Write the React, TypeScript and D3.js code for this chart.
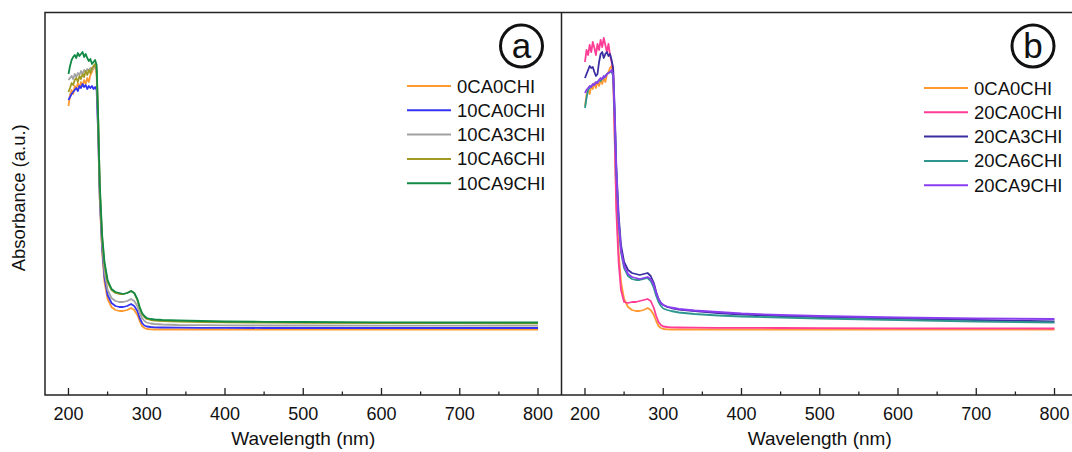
import React from "react";
import * as d3 from "d3";

// Wavelength grid (nm) shared by every spectrum
const wavelengths = [
  200, 202, 204, 206, 208, 210, 212, 214, 216, 218, 220, 222, 224, 226, 228, 230, 232, 234, 236, 238, 240,
  243, 246, 250, 255, 260, 265, 270, 275, 280, 284, 288, 291, 294, 297, 300, 305, 310, 320, 340, 370, 400,
  450, 500, 600, 700, 800,
];

// Absorbance (a.u.) per sample
const s0CA0CHI = [
  2.89, 3.0, 3.05, 3.01, 3.09, 3.06, 3.12, 3.07, 3.13, 3.09, 3.15, 3.11, 3.17, 3.13, 3.2, 3.23, 3.27, 3.29, 3.2, 2.6, 1.95,
  1.43, 1.13, 0.96, 0.88, 0.85, 0.84, 0.84, 0.85, 0.87, 0.85, 0.8, 0.74, 0.69, 0.67, 0.66, 0.657, 0.655, 0.655, 0.655,
  0.655, 0.655, 0.655, 0.655, 0.655, 0.655, 0.655,
];
const s10CA0CHI = [
  2.95, 2.98, 3.01, 3.03, 3.05, 3.07, 3.04, 3.09, 3.07, 3.11, 3.08, 3.1, 3.06, 3.09, 3.07, 3.09, 3.06, 3.08, 3.05, 2.6, 1.97,
  1.47, 1.18, 1.0, 0.92, 0.89, 0.88, 0.88, 0.89, 0.91, 0.89, 0.84, 0.77, 0.72, 0.695, 0.685, 0.68, 0.677, 0.675, 0.673,
  0.672, 0.671, 0.67, 0.67, 0.67, 0.67, 0.67,
];
const s10CA3CHI = [
  3.15, 3.17, 3.19, 3.16, 3.21, 3.18, 3.22, 3.2, 3.24, 3.21, 3.25, 3.23, 3.26, 3.24, 3.27, 3.25, 3.28, 3.29, 3.23, 2.7, 2.03,
  1.52, 1.23, 1.05, 0.97, 0.94, 0.93, 0.93, 0.94, 0.96, 0.94, 0.89, 0.82, 0.77, 0.74, 0.725, 0.715, 0.71, 0.705, 0.7,
  0.698, 0.696, 0.695, 0.695, 0.694, 0.694, 0.694,
];
const s10CA6CHI = [
  3.03, 3.07, 3.12, 3.1, 3.15, 3.17, 3.13, 3.19, 3.16, 3.21, 3.18, 3.24, 3.2, 3.25, 3.22, 3.27, 3.29, 3.31, 3.25, 2.75, 2.07,
  1.57, 1.3, 1.13, 1.05, 1.02, 1.01, 1.01, 1.02, 1.04, 1.02, 0.95, 0.87, 0.81, 0.78, 0.76, 0.75, 0.745, 0.74, 0.735,
  0.73, 0.727, 0.724, 0.722, 0.72, 0.718, 0.717,
];
const s10CA9CHI = [
  3.21, 3.29, 3.35, 3.38, 3.4, 3.37, 3.42, 3.39, 3.41, 3.43, 3.38, 3.41, 3.37, 3.34, 3.36, 3.31, 3.33, 3.35, 3.3, 2.75, 2.1,
  1.6, 1.33, 1.15, 1.06, 1.03, 1.02, 1.01, 1.02, 1.04, 1.02, 0.96, 0.88, 0.82, 0.79, 0.77, 0.76, 0.755, 0.75, 0.745,
  0.74, 0.735, 0.732, 0.73, 0.727, 0.725, 0.725,
];
const s20CA0CHI = [
  3.33, 3.45, 3.4, 3.5, 3.43, 3.53, 3.47, 3.4, 3.51, 3.45, 3.55, 3.48, 3.57, 3.5, 3.43, 3.51, 3.4, 3.33, 3.25, 2.55, 1.85,
  1.33, 1.05, 0.93, 0.92, 0.93, 0.93, 0.94, 0.95, 0.96, 0.94, 0.87, 0.79, 0.73, 0.7, 0.685, 0.68, 0.677, 0.675, 0.673,
  0.672, 0.671, 0.67, 0.668, 0.667, 0.666, 0.665,
];
const s20CA3CHI = [
  3.17, 3.21, 3.25, 3.29, 3.27, 3.28, 3.23, 3.19, 3.21, 3.33, 3.41, 3.43, 3.37, 3.41, 3.43, 3.39, 3.41, 3.35, 3.27, 2.85, 2.3,
  1.8, 1.5, 1.33, 1.25, 1.22, 1.21, 1.2, 1.21, 1.22, 1.19, 1.12, 1.03, 0.96, 0.92, 0.9, 0.88, 0.87, 0.855, 0.84,
  0.82, 0.805, 0.79, 0.78, 0.765, 0.75, 0.735,
];
const s20CA6CHI = [
  2.87, 2.97, 3.05, 3.07, 3.09, 3.1, 3.11, 3.12, 3.13, 3.15, 3.14, 3.16, 3.17, 3.19, 3.21, 3.22, 3.23, 3.23, 3.19, 2.77, 2.23,
  1.73, 1.43, 1.27, 1.19, 1.16, 1.15, 1.15, 1.16, 1.17, 1.14, 1.07, 0.99, 0.93, 0.89, 0.865, 0.85, 0.84, 0.825, 0.81,
  0.795, 0.785, 0.775, 0.765, 0.75, 0.735, 0.725,
];
const s20CA9CHI = [
  3.02, 3.05, 3.07, 3.09, 3.08, 3.11, 3.1, 3.13, 3.12, 3.15, 3.17, 3.16, 3.19, 3.18, 3.21, 3.22, 3.23, 3.25, 3.21, 2.8, 2.25,
  1.75, 1.45, 1.29, 1.21, 1.18, 1.17, 1.16, 1.17, 1.18, 1.16, 1.1, 1.02, 0.96, 0.92, 0.9, 0.885, 0.875, 0.86, 0.845,
  0.83, 0.815, 0.8, 0.79, 0.775, 0.765, 0.76,
];

const xTicks = [200, 300, 400, 500, 600, 700, 800];
const xMinorTicks = [250, 350, 450, 550, 650, 750];

type Series = { name: string; values: number[]; color: string };

const panelA: Series[] = [
  { name: "0CA0CHI", values: s0CA0CHI, color: "#ff9a33" },
  { name: "10CA0CHI", values: s10CA0CHI, color: "#3434f2" },
  { name: "10CA3CHI", values: s10CA3CHI, color: "#a2a2a2" },
  { name: "10CA6CHI", values: s10CA6CHI, color: "#a09a22" },
  { name: "10CA9CHI", values: s10CA9CHI, color: "#128a45" },
];
const panelB: Series[] = [
  { name: "0CA0CHI", values: s0CA0CHI, color: "#ff9a33" },
  { name: "20CA0CHI", values: s20CA0CHI, color: "#ff3d96" },
  { name: "20CA3CHI", values: s20CA3CHI, color: "#3a2fa0" },
  { name: "20CA6CHI", values: s20CA6CHI, color: "#2e958f" },
  { name: "20CA9CHI", values: s20CA9CHI, color: "#8b3df0" },
];

const FONT = "'Liberation Sans', Arial, sans-serif";
const TOP = 12.5;
const BOTTOM = 395;
const PANEL_W = 516.5;

function Panel({
  x0,
  series,
  tag,
  legendX,
  legendY,
  tagX,
}: {
  x0: number;
  series: Series[];
  tag: string;
  legendX: number;
  legendY: number;
  tagX: number;
}) {
  const x = d3.scaleLinear().domain([170, 830]).range([x0, x0 + PANEL_W]);
  const y = d3.scaleLinear().domain([0, 3.825]).range([BOTTOM, TOP]);
  const line = d3
    .line<number>()
    .x((_, i) => x(wavelengths[i]))
    .y((v) => y(v))
    .curve(d3.curveLinear);

  return (
    <g>
      {series.map((s) => (
        <path
          key={s.name}
          d={line(s.values) ?? ""}
          fill="none"
          stroke={s.color}
          strokeWidth={1.8}
          strokeLinejoin="round"
        />
      ))}
      {/* bottom axis with inward ticks */}
      {xTicks.map((t) => (
        <g key={t}>
          <line x1={x(t)} x2={x(t)} y1={BOTTOM} y2={BOTTOM - 7} stroke="#222" strokeWidth={1.3} />
          <text x={x(t)} y={420} textAnchor="middle" fontSize={18} fontFamily={FONT} fill="#111">
            {t}
          </text>
        </g>
      ))}
      {xMinorTicks.map((t) => (
        <line key={t} x1={x(t)} x2={x(t)} y1={BOTTOM} y2={BOTTOM - 3.5} stroke="#222" strokeWidth={1.3} />
      ))}
      <text
        x={x0 + PANEL_W / 2}
        y={445}
        textAnchor="middle"
        fontSize={19}
        fontFamily={FONT}
        fill="#111"
      >
        Wavelength (nm)
      </text>
      {/* legend */}
      {series.map((s, i) => (
        <g key={s.name} transform={`translate(${legendX},${legendY + i * 24.3})`}>
          <line x1={0} x2={44} y1={0} y2={0} stroke={s.color} strokeWidth={2} />
          <text x={50} y={6.5} fontSize={18.5} fontFamily={FONT} fill="#111">
            {s.name}
          </text>
        </g>
      ))}
      {/* panel tag */}
      <circle cx={tagX} cy={46} r={21} fill="none" stroke="#111" strokeWidth={3} />
      <text x={tagX} y={58} textAnchor="middle" fontSize={35} fontFamily={FONT} fill="#111">
        {tag}
      </text>
    </g>
  );
}

export default function App() {
  const xa = 45;
  const xb = 561.5;
  return (
    <svg
      width={1072}
      height={452}
      style={{ position: "absolute", left: 0, top: 0, background: "#fff" }}
    >
      <rect x={0} y={0} width={1072} height={452} fill="#fff" />
      <Panel x0={xa} series={panelA} tag="a" legendX={407} legendY={86} tagX={521.5} />
      <Panel x0={xb} series={panelB} tag="b" legendX={924} legendY={88} tagX={1033} />
      {/* frames */}
      <rect
        x={xa}
        y={TOP}
        width={PANEL_W * 2 + 0.5}
        height={BOTTOM - TOP}
        fill="none"
        stroke="#222"
        strokeWidth={1.5}
      />
      <line x1={xb} x2={xb} y1={TOP} y2={BOTTOM} stroke="#222" strokeWidth={1.5} />
      <text
        transform={`translate(25,${(TOP + BOTTOM) / 2 - 6}) rotate(-90)`}
        textAnchor="middle"
        fontSize={18.5}
        fontFamily={FONT}
        fill="#111"
      >
        Absorbance (a.u.)
      </text>
    </svg>
  );
}
